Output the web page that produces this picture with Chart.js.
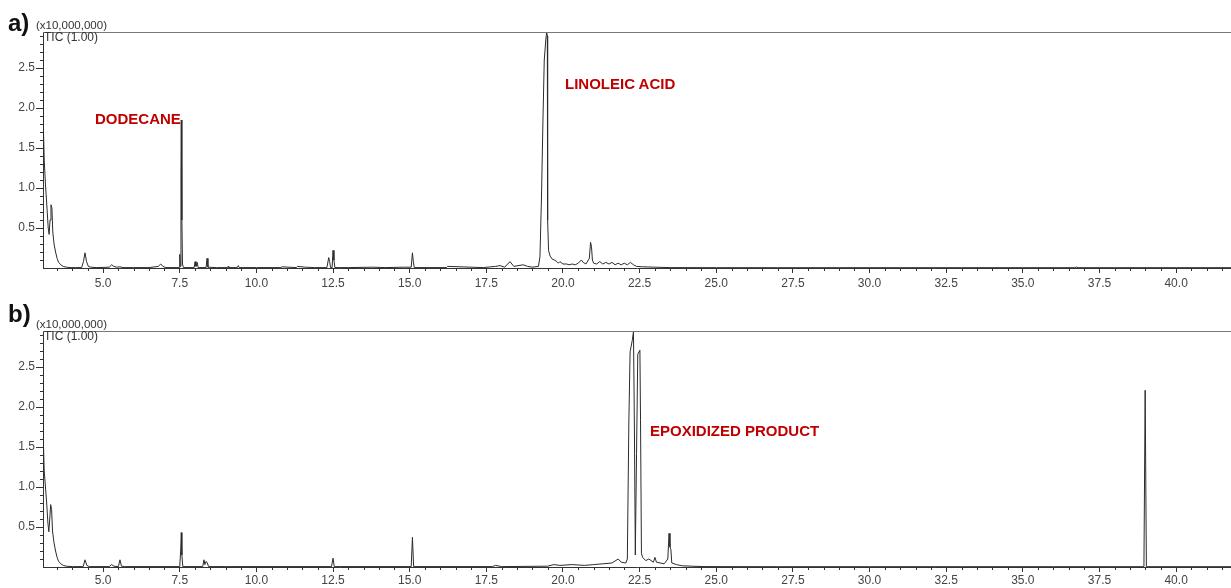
<!DOCTYPE html>
<html>
<head>
<meta charset="utf-8">
<script src="https://cdn.jsdelivr.net/npm/chart.js@4"></script>
<style>
  html,body{margin:0;padding:0;background:#fff;}
  body{width:1231px;height:588px;position:relative;overflow:hidden;font-family:"Liberation Sans",Arial,sans-serif;}
  canvas{position:absolute;left:0;}
  .t{position:absolute;white-space:nowrap;}
  .pl{font-weight:bold;font-size:24px;line-height:24px;color:#111;}
  .mul{font-size:11.5px;line-height:12px;color:#333;}
  .tic{font-size:12px;line-height:12px;color:#333;}
  .ann{font-weight:bold;font-size:15px;line-height:16px;color:#C00000;}
</style>
</head>
<body>
<canvas id="cA" width="1231" height="294" style="top:0px"></canvas>
<canvas id="cB" width="1231" height="289" style="top:299px"></canvas>

<div class="t pl" style="left:8px;top:11px;">a)</div>
<div class="t mul" style="left:36px;top:19px;">(x10,000,000)</div>
<div class="t tic" style="left:44px;top:31px;">TIC (1.00)</div>
<div class="t ann" style="left:95px;top:111px;">DODECANE</div>
<div class="t ann" style="left:565px;top:76px;">LINOLEIC ACID</div>

<div class="t pl" style="left:8px;top:302px;">b)</div>
<div class="t mul" style="left:36px;top:318px;">(x10,000,000)</div>
<div class="t tic" style="left:44px;top:330px;">TIC (1.00)</div>
<div class="t ann" style="left:650px;top:423px;">EPOXIDIZED PRODUCT</div>

<script>
// ---- axis settings / tick labels ----
const X_MIN = 3.04;
const X_MAX = 41.79;
const Y_MAX = 2.95;
const X_TICKS = [5.0, 7.5, 10.0, 12.5, 15.0, 17.5, 20.0, 22.5, 25.0, 27.5, 30.0, 32.5, 35.0, 37.5, 40.0];
const Y_TICKS = [0.5, 1.0, 1.5, 2.0, 2.5];

// ---- panel a) : retention time (min) and TIC intensity (x10,000,000) ----
const timeA = [
  3.04, 3.05, 3.08, 3.12, 3.17, 3.21, 3.24, 3.27, 3.30, 3.33, 3.36, 3.40, 3.45, 3.50, 3.55, 3.62, 3.70, 3.80, 3.95, 4.10,
  4.30, 4.36, 4.41, 4.46, 4.52, 4.60, 4.80, 5.20, 5.28, 5.35, 5.45, 5.55, 5.65, 6.00, 6.50, 6.80, 6.88, 6.95, 7.05, 7.48,
  7.50, 7.52, 7.54, 7.55, 7.57, 7.59, 7.62, 7.97, 8.00, 8.03, 8.07, 8.10, 8.36, 8.39, 8.42, 8.70, 9.06, 9.08, 9.10, 9.38,
  9.41, 9.44, 10.00, 10.80, 10.84, 11.30, 11.34, 11.60, 11.90, 12.30, 12.36, 12.39, 12.42, 12.47, 12.50, 12.53, 12.56, 13.00, 13.80, 14.20,
  14.80, 15.05, 15.09, 15.12, 15.15, 15.60, 16.20, 16.24, 17.00, 17.40, 17.80, 17.95, 18.10, 18.27, 18.40, 18.70, 18.85, 19.00, 19.20, 19.25,
  19.30, 19.35, 19.39, 19.44, 19.47, 19.49, 19.50, 19.53, 19.58, 19.65, 19.72, 19.80, 19.85, 19.90, 20.00, 20.12, 20.20, 20.30, 20.40, 20.50,
  20.60, 20.66, 20.75, 20.86, 20.90, 20.93, 20.96, 21.00, 21.10, 21.20, 21.30, 21.40, 21.50, 21.60, 21.70, 21.80, 21.90, 22.00, 22.10, 22.20,
  22.30, 22.40, 22.60, 23.00, 23.50, 25.00, 27.00, 29.00, 31.00, 33.00, 35.00, 36.70, 36.75, 36.80, 38.00, 40.00, 41.79
];
const ticA = [
  2.15, 1.80, 1.35, 1.05, 0.75, 0.50, 0.42, 0.60, 0.79, 0.75, 0.45, 0.30, 0.20, 0.12, 0.07, 0.04, 0.02, 0.01, 0.005, 0.005,
  0.005, 0.08, 0.19, 0.08, 0.02, 0.01, 0.005, 0.01, 0.04, 0.02, 0.01, 0.015, 0.005, 0.005, 0.005, 0.02, 0.05, 0.02, 0.005, 0.005,
  0.17, 0.02, 1.20, 1.85, 0.60, 0.05, 0.005, 0.005, 0.08, 0.02, 0.07, 0.005, 0.005, 0.12, 0.01, 0.005, 0.005, 0.02, 0.005, 0.005,
  0.03, 0.005, 0.005, 0.005, 0.015, 0.005, 0.02, 0.01, 0.005, 0.005, 0.13, 0.08, 0.005, 0.005, 0.22, 0.10, 0.005, 0.005, 0.01, 0.005,
  0.01, 0.01, 0.19, 0.08, 0.005, 0.005, 0.005, 0.02, 0.01, 0.005, 0.02, 0.03, 0.01, 0.08, 0.02, 0.04, 0.02, 0.01, 0.02, 0.14,
  0.90, 1.90, 2.60, 2.85, 2.95, 2.90, 0.60, 0.22, 0.15, 0.11, 0.10, 0.08, 0.06, 0.08, 0.05, 0.05, 0.04, 0.05, 0.04, 0.06,
  0.10, 0.07, 0.05, 0.12, 0.32, 0.27, 0.10, 0.06, 0.05, 0.08, 0.05, 0.07, 0.05, 0.07, 0.04, 0.06, 0.04, 0.06, 0.04, 0.07,
  0.04, 0.02, 0.015, 0.01, 0.005, 0.004, 0.004, 0.004, 0.004, 0.004, 0.004, 0.004, 0.012, 0.004, 0.004, 0.004, 0.004
];

// ---- panel b) ----
const timeB = [
  3.04, 3.05, 3.08, 3.12, 3.16, 3.20, 3.23, 3.26, 3.29, 3.32, 3.35, 3.40, 3.45, 3.50, 3.55, 3.62, 3.70, 3.80, 4.00, 4.35,
  4.41, 4.47, 4.55, 5.20, 5.28, 5.35, 5.50, 5.55, 5.60, 5.70, 7.50, 7.53, 7.55, 7.57, 7.60, 8.25, 8.29, 8.32, 8.36, 8.40,
  8.44, 9.00, 12.45, 12.50, 12.54, 15.05, 15.09, 15.13, 17.70, 17.80, 18.00, 19.50, 19.70, 19.90, 20.30, 20.70, 21.00, 21.30, 21.60, 21.80,
  21.90, 22.05, 22.10, 22.15, 22.19, 22.26, 22.30, 22.33, 22.36, 22.40, 22.44, 22.51, 22.53, 22.56, 22.60, 22.70, 22.80, 22.95, 23.00, 23.05,
  23.30, 23.42, 23.46, 23.49, 23.52, 23.55, 23.70, 23.90, 24.20, 24.60, 27.00, 30.00, 33.00, 36.00, 38.95, 38.99, 39.03, 41.79
];
const ticB = [
  2.33, 1.60, 1.20, 1.00, 0.80, 0.55, 0.44, 0.60, 0.78, 0.72, 0.45, 0.30, 0.20, 0.12, 0.07, 0.04, 0.02, 0.01, 0.005, 0.005,
  0.09, 0.02, 0.005, 0.005, 0.03, 0.01, 0.005, 0.09, 0.01, 0.005, 0.005, 0.20, 0.43, 0.15, 0.005, 0.005, 0.09, 0.03, 0.07, 0.05,
  0.005, 0.005, 0.005, 0.11, 0.005, 0.005, 0.37, 0.005, 0.005, 0.02, 0.005, 0.01, 0.03, 0.02, 0.03, 0.02, 0.03, 0.04, 0.05, 0.10,
  0.06, 0.05, 0.10, 1.84, 2.69, 2.83, 2.94, 1.75, 0.15, 1.42, 2.66, 2.71, 1.84, 0.17, 0.12, 0.08, 0.10, 0.06, 0.12, 0.06,
  0.04, 0.10, 0.42, 0.25, 0.22, 0.05, 0.03, 0.015, 0.01, 0.005, 0.004, 0.004, 0.004, 0.004, 0.004, 2.21, 0.004, 0.004
];

const toPts = (ts, vs) => ts.map((t, i) => ({x: t, y: vs[i]}));

const axisPlugin = {
  id: 'axisExtras',
  afterDraw(chart) {
    const {ctx, chartArea, scales: {x, y}} = chart;
    ctx.save();
    ctx.strokeStyle = '#333';
    ctx.lineWidth = 1;
    ctx.beginPath();
    // minor ticks every 0.5 min on x
    for (let v = 3.5; v <= X_MAX; v += 0.5) {
      const r = Math.round(v * 10) / 10;
      if (X_TICKS.some(t => Math.abs(t - r) < 1e-6)) continue;
      const px = Math.round(x.getPixelForValue(r)) + 0.5;
      ctx.moveTo(px, chartArea.bottom);
      ctx.lineTo(px, chartArea.bottom + 3);
    }
    // minor ticks every 0.1 on y
    for (let v = 0.1; v < Y_MAX; v += 0.1) {
      const r = Math.round(v * 10) / 10;
      if (Y_TICKS.some(t => Math.abs(t - r) < 1e-6)) continue;
      const py = Math.round(y.getPixelForValue(r)) + 0.5;
      ctx.moveTo(chartArea.left - 3, py);
      ctx.lineTo(chartArea.left, py);
    }
    ctx.stroke();
    // top frame line
    ctx.strokeStyle = '#777';
    ctx.beginPath();
    ctx.moveTo(chartArea.left, chartArea.top + 0.5);
    ctx.lineTo(chartArea.right, chartArea.top + 0.5);
    ctx.stroke();
    ctx.restore();
  }
};

function makeChart(id, pts, xHeight, xPad) {
  return new Chart(document.getElementById(id), {
    type: 'line',
    data: {
      datasets: [{
        data: pts,
        borderColor: '#2b2b2b',
        borderWidth: 1,
        pointRadius: 0,
        tension: 0,
        fill: false
      }]
    },
    options: {
      animation: false,
      responsive: false,
      maintainAspectRatio: false,
      layout: {padding: {top: 32, left: 0, right: 0, bottom: 0}},
      plugins: {legend: {display: false}, tooltip: {enabled: false}},
      scales: {
        x: {
          type: 'linear',
          min: X_MIN,
          max: X_MAX,
          afterBuildTicks: s => { s.ticks = X_TICKS.map(v => ({value: v})); },
          afterFit: s => { s.height = xHeight; },
          grid: {drawOnChartArea: false, tickLength: 5, color: '#333'},
          border: {color: '#333', width: 1},
          ticks: {
            font: {family: 'Liberation Sans', size: 12},
            color: '#444',
            padding: xPad,
            maxRotation: 0,
            autoSkip: false,
            callback: v => Number(v).toFixed(1)
          }
        },
        y: {
          type: 'linear',
          min: 0,
          max: Y_MAX,
          afterBuildTicks: s => { s.ticks = Y_TICKS.map(v => ({value: v})); },
          afterFit: s => { s.width = 43; },
          grid: {drawOnChartArea: false, tickLength: 7, color: '#333'},
          border: {color: '#333', width: 1},
          ticks: {
            font: {family: 'Liberation Sans', size: 12},
            color: '#444',
            padding: 1,
            callback: v => Number(v).toFixed(1)
          }
        }
      }
    },
    plugins: [axisPlugin]
  });
}

makeChart('cA', toPts(timeA, ticA), 26, 3);
makeChart('cB', toPts(timeB, ticB), 21, 1);
</script>
</body>
</html>
